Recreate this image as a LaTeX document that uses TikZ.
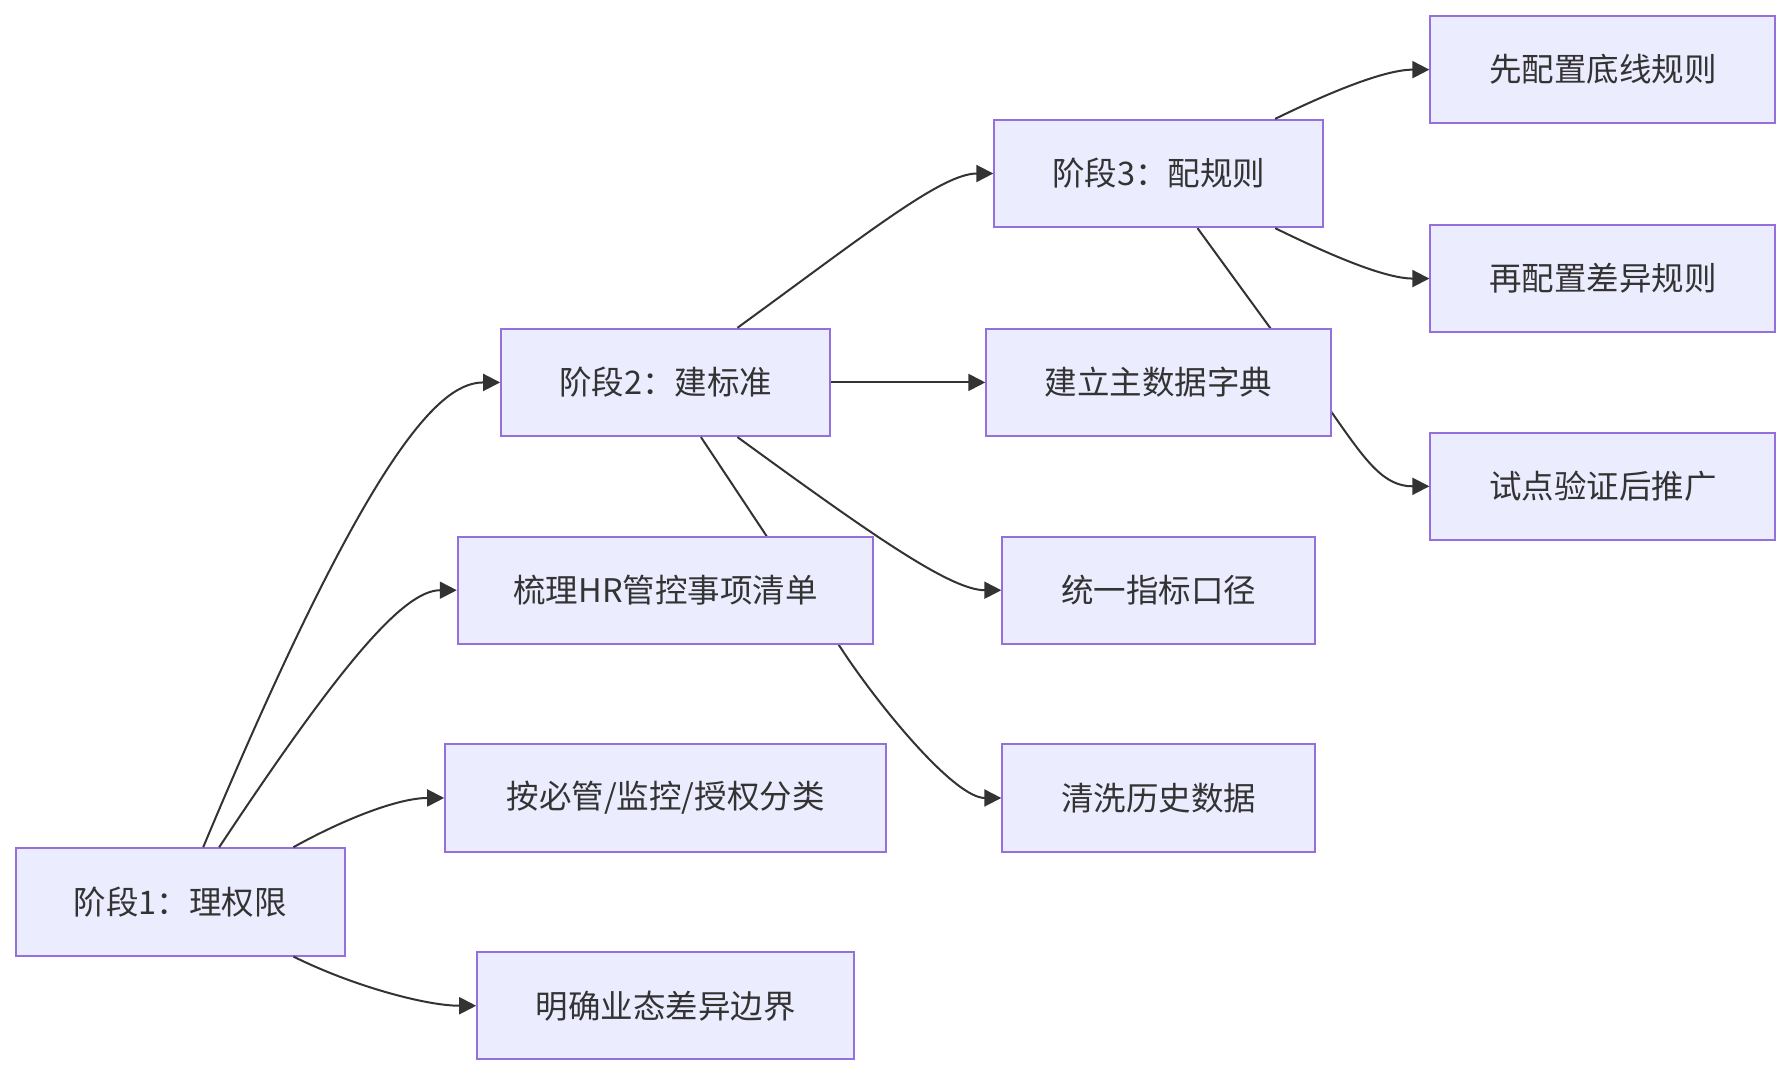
\documentclass[tikz,border=0pt]{standalone}
\usepackage{fontspec}
\setmainfont{Noto Sans CJK SC}
\usetikzlibrary{calc,arrows.meta}
\definecolor{nodefill}{HTML}{ECECFF}
\definecolor{nodeline}{HTML}{9370DB}
\definecolor{edgecol}{HTML}{333333}
\definecolor{txtcol}{HTML}{333333}
\begin{document}
\begin{tikzpicture}[x=1.1416pt,y=-1.1416pt,
  box/.style={draw=nodeline,fill=nodefill,line width=2pt,minimum height=107.3pt,inner sep=0pt,
    text=txtcol,font=\fontsize{32.5}{38}\selectfont},
  w288/.style={minimum width=328.8pt},
  w364/.style={minimum width=415.5pt},
  w386/.style={minimum width=440.7pt},
  w330/.style={minimum width=376.7pt},
  w302/.style={minimum width=344.8pt},
  w274/.style={minimum width=312.8pt},
  edge/.style={draw=edgecol,line width=2pt,-{Triangle[length=17pt,width=17pt]}},
  plain/.style={draw=edgecol,line width=2pt}]
\useasboundingbox (0,0) rectangle (1568,943);
% nodes
\node[box,w288] (p1) at (158,790) {阶段1：理权限};
\node[box,w288] (p2) at (583,335) {阶段2：建标准};
\node[box,w288] (p3) at (1015,152) {阶段3：配规则};
\node[box,w386] (a2) at (583,699) {按必管/监控/授权分类};
\node[box,w330] (a3) at (583,881) {明确业态差异边界};
\node[box,w274] (b2) at (1015,517) {统一指标口径};
\node[box,w274] (b3) at (1015,699) {清洗历史数据};
\node[box,w302] (c1) at (1404,61) {先配置底线规则};
\node[box,w302] (c2) at (1404,244) {再配置差异规则};
\node[box,w302] (c3) at (1404,426) {试点验证后推广};
% edges passing behind nodes
\coordinate (k1) at ($(p2.south)+(157,190)$);
\draw[plain] ($(p2.south)+(31,0)$) -- (k1);
\draw[edge] (k1) .. controls +(35,52) and +(-40,0) .. (b3.west);
\coordinate (k2) at ($(p3.south)+(152,162)$);
\draw[plain] ($(p3.south)+(34,0)$) -- (k2);
\draw[edge] (k2) .. controls +(30,43) and +(-40,0) .. (c3.west);
\node[box,w364] (a1) at (583,517) {梳理HR管控事项清单};
\node[box,w302] (b1) at (1015,335) {建立主数据字典};
% other edges
\draw[edge] ($(p1.north)+(20,0)$) .. controls +(152,-363) and +(-49,0) .. (p2.west);
\draw[edge] ($(p1.north)+(34,0)$) .. controls +(108,-163) and +(-46,0) .. (a1.west);
\draw[edge] ($(p1.north)+(99,0)$) .. controls +(45,-25) and +(-40,0) .. (a2.west);
\draw[edge] ($(p1.south)+(99,0)$) .. controls +(50,25) and +(-45,0) .. (a3.west);
\draw[edge] ($(p2.north)+(63,0)$) .. controls +(114,-83) and +(-45,0) .. (p3.west);
\draw[edge] (p2.east) -- (b1.west);
\draw[edge] ($(p2.south)+(63,0)$) .. controls +(114,83) and +(-45,0) .. (b2.west);
\draw[edge] ($(p3.north)+(102,0)$) .. controls +(45,-22) and +(-40,0) .. (c1.west);
\draw[edge] ($(p3.south)+(102,0)$) .. controls +(45,22) and +(-40,0) .. (c2.west);
\end{tikzpicture}
\end{document}
